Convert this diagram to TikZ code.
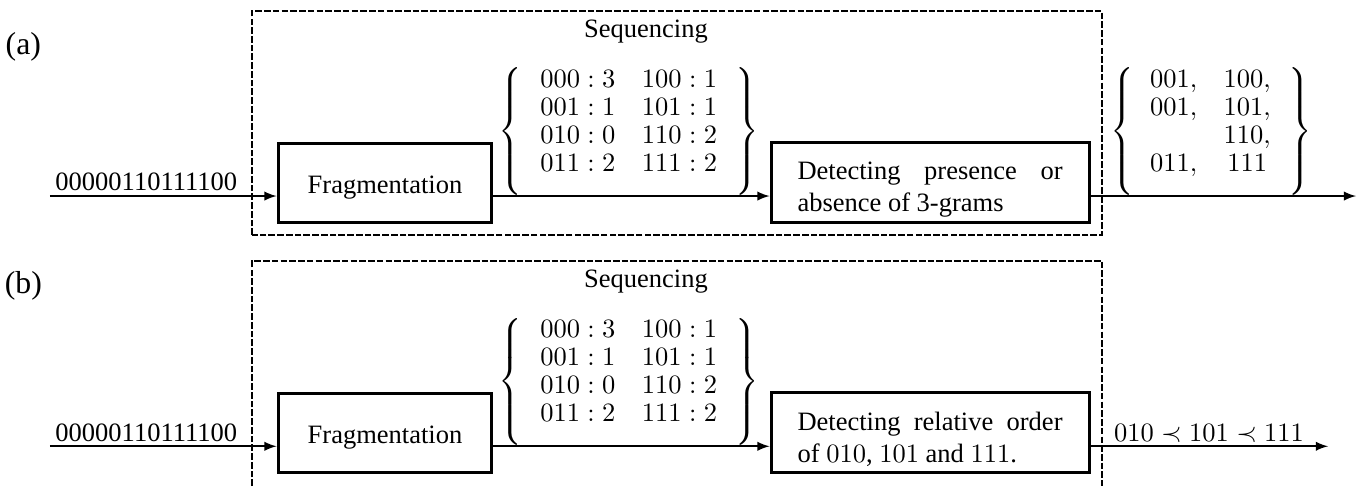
\documentclass[tikz,border=0pt]{standalone}
\usepackage{fontspec}
\setmainfont{Liberation Serif}
\usetikzlibrary{arrows}
\renewcommand{\arraystretch}{0.88}

\tikzset{
  block/.style={draw, line width=1.1pt, minimum height=30pt, inner xsep=10pt},
  fragblock/.style={block, minimum width=80.7pt, text height=10pt},
  textblock/.style={block, text width=100pt, align=justify, inner ysep=0pt,
    execute at begin node={\hyphenpenalty=10000\tolerance=10000\rule{0pt}{12pt}}},
  seqbox/.style={line width=0.9pt, dash pattern=on 2.5pt off 0.8pt},
  flow/.style={semithick, -latex},
  brace/.style={anchor=south, inner sep=0pt},
}

\begin{document}
\begin{tikzpicture}
  \useasboundingbox (0,0) rectangle (18.064,6.446);

  \node[font=\large] (labA) at (0.31,5.822) {(a)};
  \draw[seqbox] (3.342,3.329) rectangle (14.616,6.300);
  \node[anchor=base] (seqA) at (8.568,5.955) {Sequencing};

  \node[fragblock] (fragA) at (5.106,4.019) {Fragmentation};
  \node[textblock] (detA) at (12.335,4.025) {Detecting presence or absence of 3-grams};

  \coordinate (inA) at (0.663,3.846);
  \coordinate (outA) at (17.985,3.846);
  \draw[flow] (inA) -- (inA -| fragA.west);
  \draw[flow] (fragA.east |- inA) -- (detA.west |- inA);
  \draw[flow] (detA.east |- inA) -- (outA);

  \node[anchor=base] (strA) at (1.94,3.913) {00000110111100};
  \node[brace] (cntA) at (8.342,3.846) {$\left\{\begin{array}{@{\hspace{6.8pt}}ll@{\hspace{7pt}}}
    000:3 & 100:1\\ 001:1 & 101:1\\ 010:0 & 110:2\\ 011:2 & 111:2\\[6pt] \end{array}\right\}$};
  \node[brace] (setA) at (16.068,3.846) {$\left\{\begin{array}{@{\hspace{6pt}}cc@{\hspace{6.8pt}}}
    001, & 100,\\ 001, & 101,\\ & 110,\\ 011, & 111\\[6pt] \end{array}\right\}$};


  \node[font=\large] (labB) at (0.31,2.653) {(b)};
  \draw[seqbox] (3.342,0) -- (3.342,2.984) -- (14.616,2.984) -- (14.616,0);
  \node[anchor=base] (seqB) at (8.568,2.639) {Sequencing};

  \node[fragblock] (fragB) at (5.106,0.703) {Fragmentation};
  \node[textblock] (detB) at (12.335,0.709) {Detecting relative order of $010$, $101$ and $111$.};

  \coordinate (inB) at (0.663,0.527);
  \coordinate (outB) at (17.613,0.527);
  \draw[flow] (inB) -- (inB -| fragB.west);
  \draw[flow] (fragB.east |- inB) -- (detB.west |- inB);
  \draw[flow] (detB.east |- inB) -- (outB);

  \node[anchor=base] (strB) at (1.94,0.597) {00000110111100};
  \node[brace] (cntB) at (8.342,0.527) {$\left\{\begin{array}{@{\hspace{6.8pt}}ll@{\hspace{7pt}}}
    000:3 & 100:1\\ 001:1 & 101:1\\ 010:0 & 110:2\\ 011:2 & 111:2\\[6pt] \end{array}\right\}$};
  \node[anchor=base] (ordB) at (16.035,0.59) {$010 \prec 101 \prec 111$};

\end{tikzpicture}
\end{document}
